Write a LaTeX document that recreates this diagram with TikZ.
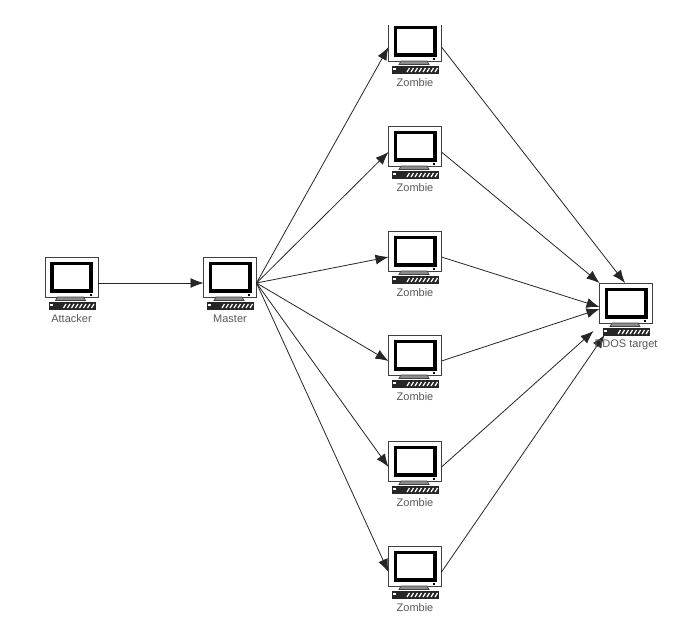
\documentclass[tikz,border=0pt]{standalone}
\usepackage{fontspec}
\setmainfont{Liberation Sans}
\usetikzlibrary{arrows.meta}
\tikzset{
  x=1pt,y=-1pt,
  monitor/.style={draw=black!75,line width=0.8pt,fill=white,minimum width=53pt,minimum height=40pt,inner sep=0pt,outer sep=0pt},
  caption/.style={font=\fontsize{11}{12}\selectfont,text=black!65,inner sep=0pt},
  link/.style={draw=black!85,line width=0.8pt,-{Latex[length=13pt,width=10pt]}},
}
\newcommand{\computer}[3]{%
  \node[monitor] (#1) at (#2,#3) {};
  \draw[line width=3.6pt,black] ([shift={(6.8,6.5)}]#1.north west) rectangle ([shift={(-6.8,-6)}]#1.south east);
  \draw[black!75,line width=0.7pt,fill=black!45] (#2-14,#3+20) -- (#2-16,#3+23.5) -- (#2+14,#3+23.5) -- (#2+12,#3+20) -- cycle;
  \fill[black] (#2+18,#3+17) rectangle (#2+20,#3+18.8);
  \fill[black!85] (#2-23,#3+25) rectangle (#2+24,#3+33);
  \foreach \k in {-8,-4,...,20} {\draw[white,line width=1.2pt] (#2+\k,#3+31) -- (#2+\k+2.5,#3+27);}
  \fill[white] (#2-22,#3+27) rectangle (#2-19,#3+29);
  \coordinate (#1t) at (#2,#3+41.5);
}
\begin{document}
\begin{tikzpicture}
\useasboundingbox (0,0) rectangle (679,641);
\fill[white] (0,0) rectangle (679,641);
\computer{attacker}{71.5}{277}
\computer{master}{230}{277}
\computer{zA}{415}{41}
\computer{zB}{415}{146}
\computer{zC}{415}{251}
\computer{zD}{415}{355}
\computer{zE}{415}{461}
\computer{zF}{415}{566}
\computer{target}{626}{303}
\fill[white] (370,0) rectangle (470,25);
\path[link] ([yshift=-6pt]attacker.east) -- ([yshift=-6pt]master.west);
\foreach \n in {zA,zB,zC,zD,zE,zF} {\path[link] ([yshift=-6pt]master.east) -- ([yshift=-6pt]\n.west);}
\path[link] ([yshift=-6pt]zA.east) -- ([xshift=-1pt]target.north);
\path[link] ([yshift=-6pt]zB.east) -- (target.north west);
\path[link] ([yshift=-6pt]zC.east) -- ([yshift=-4pt]target.west);
\path[link] ([yshift=-6pt]zD.east) -- ([yshift=-6pt]target.west);
\path[link] ([yshift=-6pt]zE.east) -- ([shift={(-6,8)}]target.south west);
\path[link] ([yshift=-6pt]zF.east) -- ([shift={(5,12)}]target.south west);
\node[caption] (attackerl) at (attackert) {Attacker};
\node[caption] (masterl) at (mastert) {Master};
\foreach \n in {zA,zB,zC,zD,zE,zF} {\node[caption] (\n l) at (\n t) {Zombie};}
\node[caption] (targetl) at (targett) {DDOS target};
\end{tikzpicture}
\end{document}
